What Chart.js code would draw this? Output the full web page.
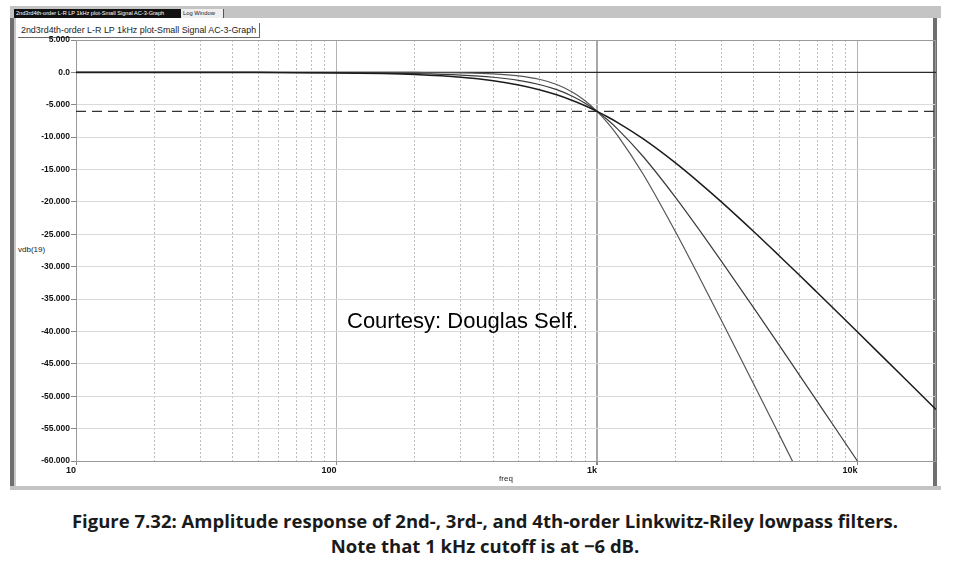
<!DOCTYPE html>
<html>
<head>
<meta charset="utf-8">
<script src="https://cdn.jsdelivr.net/npm/chart.js@4.4.1/dist/chart.umd.min.js"></script>
<style>
  html, body { margin:0; padding:0; background:#fff; }
  #wrap { position:relative; width:961px; height:579px; overflow:hidden; background:#fff; font-family:"Liberation Sans", Arial, sans-serif; }
  .abs { position:absolute; }
  #tabbar { left:10px; top:6px; width:931px; height:12px; background:#c4c4c4; }
  #tab1 { left:14px; top:9px; height:9px; width:166px; background:#111; color:#fff; font-size:5.6px; line-height:9px; padding-left:2px; white-space:nowrap; overflow:hidden; }
  #tab2 { left:181px; top:9px; height:9px; width:40px; background:#eee; color:#222; font-size:5.8px; line-height:9px; padding-left:2px; border-right:1px solid #555; white-space:nowrap; }
  #panel { left:10px; top:18px; width:927px; height:468px; border-left:4px solid #6f6f6f; border-right:4px solid #6f6f6f; box-sizing:border-box; background:#fff; }
  #panelInner { left:14px; top:18px; width:2px; height:468px; background:#c8c8c8; }
  #bottombar { left:10px; top:486px; width:931px; height:4px; background:#c4c4c4; }
  #ptitle { left:18px; top:23px; height:14px; padding:0 3px 0 3px; font-size:8.9px; line-height:14px; color:#222; border-right:1px solid #666; border-bottom:1px solid #666; white-space:nowrap; }
  #ylab { left:18px; top:245px; font-size:8px; color:#222; }
  #courtesy { left:347px; top:308px; font-size:22px; line-height:26px; color:#000; white-space:nowrap; z-index:3; }
  #caption { left:0; top:508px; width:970px; text-align:center; font-family:"Open Sans", Lato, sans-serif; font-weight:bold; font-size:18.5px; line-height:25px; color:#1a1a1a; }
  canvas#c { position:absolute; left:0; top:0; z-index:2; }
</style>
</head>
<body>
<div id="wrap">
  <div class="abs" id="tabbar"></div>
  <div class="abs" id="tab1">2nd3rd4th-order L-R LP 1kHz plot-Small Signal AC-3-Graph</div>
  <div class="abs" id="tab2">Log Window</div>
  <div class="abs" id="panel"></div>
  <div class="abs" id="panelInner"></div>
  <div class="abs" id="bottombar"></div>
  <div class="abs" id="ptitle">2nd3rd4th-order L-R LP 1kHz plot-Small Signal AC-3-Graph</div>
  <div class="abs" id="ylab">vdb(19)</div>
  <div class="abs" id="courtesy">Courtesy: Douglas Self.</div>
  <div class="abs" id="caption">Figure 7.32: Amplitude response of 2nd-, 3rd-, and 4th-order Linkwitz-Riley lowpass filters.<br>Note that 1 kHz cutoff is at −6 dB.</div>
  <canvas id="c" width="961" height="579"></canvas>
</div>
<script>
// ---- data ----
const freqHz = [10, 20, 50, 100, 150, 200, 300, 400, 500, 600, 700, 800, 900, 1000, 1100, 1200, 1500, 2000, 2500, 3000, 4000, 5000, 6000, 7000, 8000, 10000, 12000, 15000, 20000];
const lr2dB  = [0, 0, -0.02, -0.09, -0.19, -0.34, -0.75, -1.29, -1.94, -2.67, -3.46, -4.30, -5.15, -6.02, -6.89, -7.75, -10.24, -13.98, -17.21, -20.00, -24.61, -28.30, -31.36, -33.98, -36.26, -40.09, -43.23, -47.08, -52.06];
const lr3dB  = [0, 0, -0.01, -0.04, -0.10, -0.18, -0.41, -0.75, -1.23, -1.87, -2.67, -3.64, -4.77, -6.02, -7.36, -8.75, -12.95, -19.29, -24.63, -29.14, -36.40, -42.12, -46.81, -50.80, -54.25, -60.04, -64.78, null, null];
const lr4dB  = [0, 0, 0, 0, 0, -0.01, -0.07, -0.22, -0.53, -1.06, -1.87, -2.98, -4.38, -6.02, -7.83, -9.75, -15.65, -24.61, -32.05, -38.28, -48.20, -55.93, -62.26, null, null, null, null, null, null];
const refFreq = [10, 20000];
const zeroRef = [0, 0];
const minus6Ref = [-6.02, -6.02];
const xMajorTicks = [10, 100, 1000, 10000];
const xMajorLabels = ['10', '100', '1k', '10k'];
const yMin = -60, yMax = 5, yStep = 5;

const pts = (xs, ys) => xs.map((x, i) => ({x: x, y: ys[i]})).filter(p => p.y !== null);

// minor log gridlines (2..9 per decade)
const xGridTicks = [];
for (let d = 10; d <= 10000; d *= 10) {
  for (let m = 1; m <= 9; m++) { const v = d * m; if (v <= 20000) xGridTicks.push(v); }
}
xGridTicks.push(20000);
const isMajor = v => xMajorTicks.indexOf(v) >= 0;

const framePlugin = {
  id: 'frame',
  beforeDatasetsDraw(chart) {
    const a = chart.chartArea, ctx = chart.ctx;
    ctx.save();
    ctx.strokeStyle = '#9a9a9a';
    ctx.lineWidth = 1;
    ctx.strokeRect(a.left + 0.5, a.top + 0.5, a.right - a.left - 1, a.bottom - a.top);
    ctx.restore();
  }
};

const lineDs = (label, data, color, width, dash) => ({
  label, data, borderColor: color, borderWidth: width, borderDash: dash || [],
  pointRadius: 0, fill: false, cubicInterpolationMode: 'monotone'
});

new Chart(document.getElementById('c'), {
  type: 'line',
  data: {
    datasets: [
      lineDs('2nd-order LR', pts(freqHz, lr2dB), '#1c1c1c', 1.5),
      lineDs('3rd-order LR', pts(freqHz, lr3dB), '#3a3a3a', 1.2),
      lineDs('4th-order LR', pts(freqHz, lr4dB), '#555555', 1.2),
      lineDs('0 dB', pts(refFreq, zeroRef), '#2a2a2a', 1.2),
      lineDs('-6 dB', pts(refFreq, minus6Ref), '#333333', 1.2, [10, 6])
    ]
  },
  options: {
    responsive: false,
    animation: false,
    devicePixelRatio: 1,
    layout: { padding: { left: 16, top: 40, right: 25, bottom: 88 } },
    plugins: { legend: { display: false }, tooltip: { enabled: false } },
    scales: {
      x: {
        type: 'logarithmic',
        min: 10, max: 20000,
        afterBuildTicks: s => { s.ticks = xGridTicks.map(v => ({ value: v, major: isMajor(v) })); },
        afterFit: s => { s.height = 30; },
        ticks: {
          autoSkip: false, maxRotation: 0, minRotation: 0, align: 'end', padding: 0,
          color: '#111', font: { family: 'Liberation Sans', size: 9, weight: 'bold' },
          callback: v => { const i = xMajorTicks.indexOf(v); return i >= 0 ? xMajorLabels[i] : ''; }
        },
        grid: {
          color: c => c.tick ? (c.tick.value === 1000 ? '#a8a8a8' : (isMajor(c.tick.value) ? '#b4b4b4' : (c.tick.value === 20000 ? 'rgba(0,0,0,0)' : '#bdbdbd'))) : '#999',
          lineWidth: c => (c.tick && c.tick.value === 1000) ? 2 : 1,
          tickLength: 4,
          tickColor: c => (c.tick && isMajor(c.tick.value)) ? '#888' : 'rgba(0,0,0,0)'
        },
        border: { color: '#8a8a8a', width: 1, dash: c => (c.tick && !isMajor(c.tick.value)) ? [2, 2] : [] },
        title: { display: true, text: 'freq', color: '#222', font: { family: 'Liberation Sans', size: 8 }, padding: { top: 0, bottom: 7 } }
      },
      y: {
        min: yMin, max: yMax,
        afterFit: s => { s.width = 60; },
        ticks: {
          stepSize: yStep, padding: 1, color: '#111',
          font: { family: 'Liberation Sans', size: 8.5, weight: 'bold' },
          callback: v => v === 0 ? '0.0' : Number(v).toFixed(3)
        },
        grid: { color: '#dadada', lineWidth: 1, tickLength: 5, tickColor: '#888' },
        border: { color: '#8a8a8a', width: 1 }
      }
    }
  },
  plugins: [framePlugin]
});
</script>
</body>
</html>
